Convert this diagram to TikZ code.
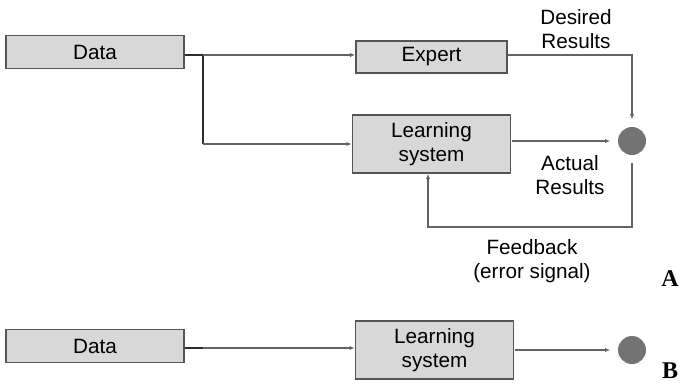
\documentclass[tikz,border=0pt]{standalone}
\usepackage{fontspec}
\setmainfont{Liberation Sans}
\newfontfamily\panelfont{Liberation Serif}
\usetikzlibrary{arrows.meta, positioning, calc}
\definecolor{cBoxFill}{RGB}{216, 216, 216}
\definecolor{cBoxDraw}{RGB}{85, 85, 85}
\definecolor{cDotFill}{RGB}{115, 115, 115}
\definecolor{lineColor}{RGB}{100, 100, 100}
\definecolor{lineDark}{RGB}{45, 45, 45}
\tikzset{
    x=1pt, y=-1pt,
    font=\fontsize{20.7}{24.5}\selectfont,
    % --- blocks ---
    baseBlock/.style={
        rectangle, draw=cBoxDraw, fill=cBoxFill, line width=1.4pt,
        inner sep=0pt, outer sep=1pt, align=center
    },
    dataBlock/.style={baseBlock, minimum width=178pt, minimum height=33pt},
    expertBlock/.style={baseBlock, minimum width=151pt, minimum height=32pt},
    learnBlock/.style={baseBlock, minimum width=158pt, minimum height=58pt},
    resultDot/.style={
        circle, fill=cDotFill, draw=none, minimum size=28pt,
        inner sep=0pt, outer sep=8pt
    },
    % --- lines ---
    conn/.style={
        draw=lineColor, line width=1.2pt,
        -{Latex[length=5pt, width=4.5pt]}
    },
    connThick/.style={draw=lineDark, line width=2.6pt},
    % --- labels ---
    textLabel/.style={align=center, inner sep=0pt},
    panelLabel/.style={font=\panelfont\bfseries\fontsize{24}{26}\selectfont, inner sep=0pt}
}

\begin{document}
\begin{tikzpicture}

    \useasboundingbox (0,0) rectangle (681,386);

    % =========================================================
    % A: supervised learning with expert
    % =========================================================

    \node [dataBlock] (dataA) at (95,52) {Data};
    \node [expertBlock] (expert) at (431.5,57) {Expert};
    \node [learnBlock, below=40pt of expert.south, anchor=north] (learnA) {Learning\\system};
    \node [resultDot] (resultA) at (632,141) {};

    \coordinate (splitA) at (203,55);
    \coordinate (fbCorner) at (428,227);

    \draw [connThick] (dataA.east |- splitA) -- (splitA) -- (splitA |- learnA);
    \draw [conn] (splitA) -- (expert.west |- splitA);
    \draw [conn] (splitA |- learnA) -- (learnA.west);
    \draw [conn] (expert.east |- splitA) -| (resultA.north);
    \draw [conn] (learnA.east |- resultA) -- (resultA.west);
    \draw [conn] (resultA.south) |- (fbCorner) -- (fbCorner |- learnA.south);

    \node [textLabel] (desired) at (576,29) {Desired\\Results};
    \node [textLabel] (actual) at (570,175) {Actual\\Results};
    \node [textLabel] (feedback) at (532,261) {Feedback\\(error signal)};
    \node [panelLabel] (panelA) at (670,279) {A};

    % =========================================================
    % B: learning system alone
    % =========================================================

    \node [dataBlock] (dataB) at (95,346) {Data};
    \node [learnBlock] (learnB) at (434.5,350) {Learning\\system};
    \node [resultDot] (resultB) at (632,350) {};

    \coordinate (splitB) at (203,348);

    \draw [connThick] (dataB.east |- splitB) -- (splitB);
    \draw [conn] (splitB) -- (learnB.west |- splitB);
    \draw [conn] (learnB.east |- resultB) -- (resultB.west);

    \node [panelLabel] (panelB) at (670,371) {B};

\end{tikzpicture}
\end{document}
